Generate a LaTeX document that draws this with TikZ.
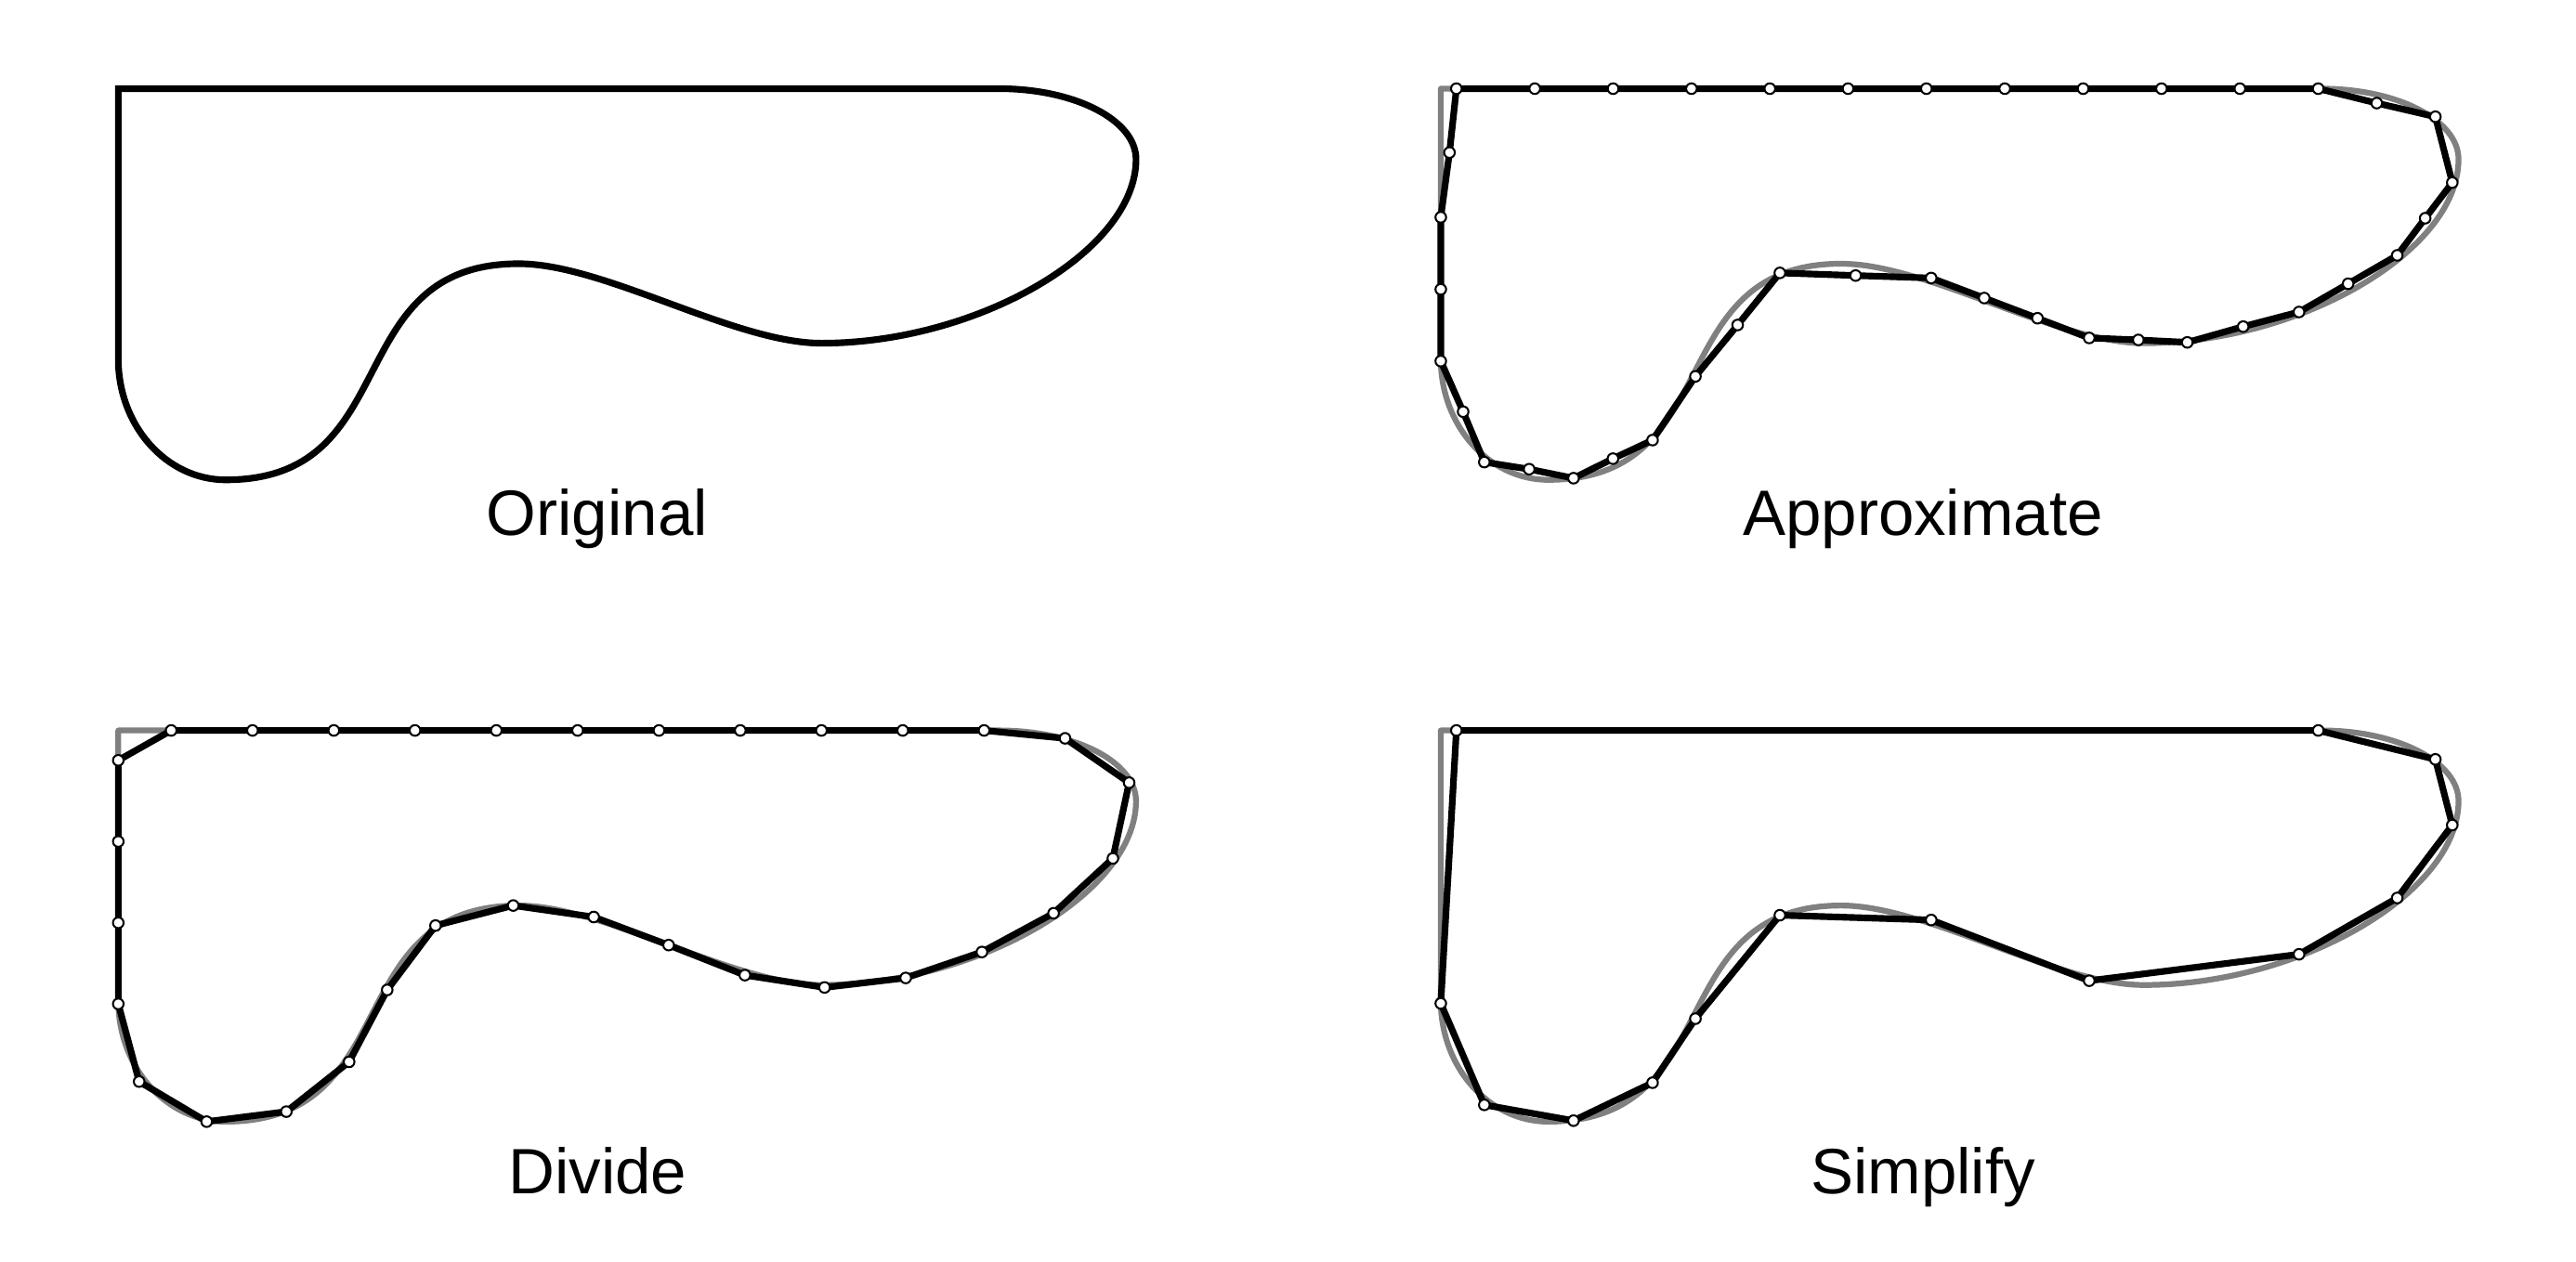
\documentclass[tikz,border=0pt]{standalone}
\usepackage{fontspec}
\setmainfont{Liberation Sans}
\definecolor{ghostgray}{HTML}{808080}
\newcommand\OrigCurve{(72,54) -- (608,54) .. controls (654,54) and (691.5,73) .. (691.5,97) .. controls (691.5,153) and (595,209) .. (500,209) .. controls (447,209) and (368,160.6) .. (315.7,160.6) .. controls (205.7,160.6) and (247.4,292.2) .. (137.4,292.2) .. controls (101.3,292.2) and (72,259.2) .. (72,218.6) -- cycle}
\tikzset{
  origline/.style={draw=black, line width=1.15pt, line join=miter},
  ghost/.style={draw=ghostgray, line width=1.0pt, line join=round},
  poly/.style={draw=black, line width=1.15pt, line join=round},
  vert/.style={circle, draw=black, fill=white, line width=0.33pt, inner sep=0pt, minimum size=1.85pt},
  lbl/.style={anchor=base, font=\fontsize{11.1}{13}\selectfont, inner sep=0pt},
}
\begin{document}
\begin{tikzpicture}[x=0.01cm, y=-0.01cm]
\useasboundingbox (0,0) rectangle (1568,768);

% ---------- Original ----------
\begin{scope}
  \draw[origline] \OrigCurve;
\end{scope}
\node[lbl] (lorig) at (363.5,326.1) {Original};

% ---------- Approximate ----------
\begin{scope}[shift={(805,0)}]
  \draw[ghost] \OrigCurve;
  \foreach \px/\py [count=\i] in {81.5/54, 129.2/54, 176.9/54, 224.6/54, 272.3/54, 319.9/54, 367.6/54, 415.3/54, 463.0/54, 510.7/54, 558.4/54, 606.1/54,
    641.7/62.8, 677.4/71.1, 687.7/111.2, 671.2/132.9, 654.2/155.5, 624.3/172.8, 594.4/190.0, 560.4/198.9, 526.4/208.5, 496.6/207.0, 466.7/205.8,
    435.2/193.8, 402.8/181.5, 370.5/169.3, 324.5/167.8, 278.4/166.2, 252.7/197.9, 227.0/229.2, 200.9/268.0, 176.8/279.3, 152.8/291.2,
    125.8/285.7, 98.5/281.4, 85.6/250.7, 72/219.9, 72/176.2, 72/132.3, 77.3/92.9}
    \coordinate (a\i) at (\px,\py);
  \draw[poly] (a1) \foreach \i in {2,...,40} { -- (a\i) } -- cycle;
  \foreach \i in {1,...,40} \node[vert] (va\i) at (a\i) {};
\end{scope}
\node[lbl] (lapprox) at (1170.5,326.1) {Approximate};

% ---------- Divide ----------
\begin{scope}[shift={(0,390.8)}]
  \draw[ghost] \OrigCurve;
  \foreach \px/\py [count=\i] in {104.2/54, 153.7/54, 203.2/54, 252.6/54, 302.1/54, 351.6/54, 401.1/54, 450.6/54, 500.0/54, 549.5/54, 599.0/54,
    648.3/58.8, 687.3/85.8, 677.4/131.9, 641.3/165.3, 597.7/188.9, 551.3/204.7, 501.9/210.5, 453.4/203.0, 407.0/184.7, 361.4/167.6,
    312.4/160.6, 265.1/172.8, 235.7/212.0, 212.5/255.8, 174.3/286.1, 125.8/292.2, 84.7/267.8, 72/220.5, 72/171.1, 72/121.6, 72/72.2}
    \coordinate (d\i) at (\px,\py);
  \draw[poly] (d1) \foreach \i in {2,...,32} { -- (d\i) } -- cycle;
  \foreach \i in {1,...,32} \node[vert] (vd\i) at (d\i) {};
\end{scope}
\node[lbl] (ldivide) at (363.8,727) {Divide};

% ---------- Simplify ----------
\begin{scope}[shift={(805,390.8)}]
  \draw[ghost] \OrigCurve;
  \foreach \px/\py [count=\i] in {81.5/54, 606.1/54, 677.4/71.6, 687.7/111.6, 654.2/156, 594.4/190.3, 466.7/206.4, 370.5/169.4,
    278.4/166.5, 227.0/229.5, 200.9/268.5, 152.8/291.6, 98.5/282, 72/220.2}
    \coordinate (s\i) at (\px,\py);
  \draw[poly] (s1) \foreach \i in {2,...,14} { -- (s\i) } -- cycle;
  \foreach \i in {1,...,14} \node[vert] (vs\i) at (s\i) {};
\end{scope}
\node[lbl] (lsimplify) at (1170.5,727) {Simplify};
\end{tikzpicture}
\end{document}
